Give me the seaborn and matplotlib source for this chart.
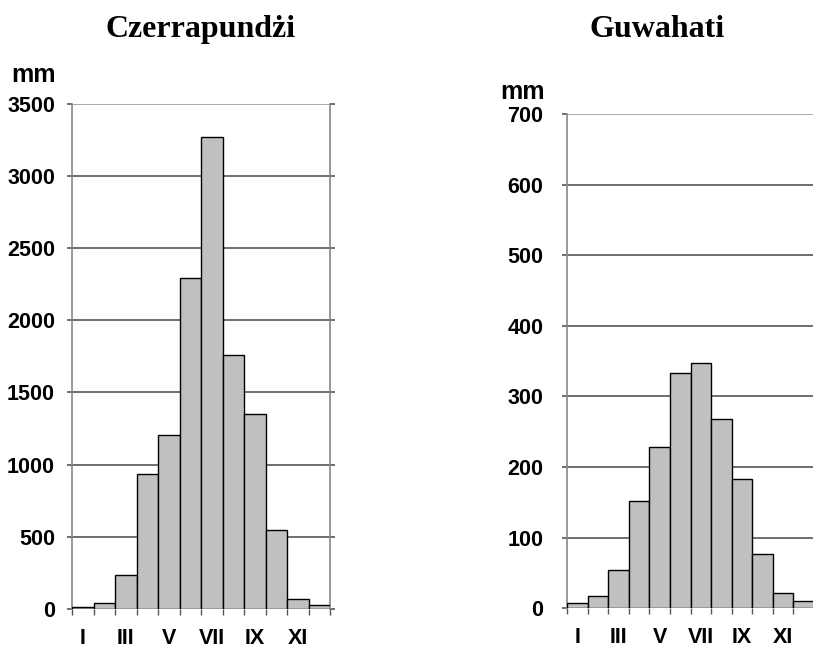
import matplotlib
matplotlib.use("Agg")
import matplotlib.pyplot as plt
import seaborn as sns
import pandas as pd
import numpy as np

months = ["I", "II", "III", "IV", "V", "VI", "VII", "VIII", "IX", "X", "XI", "XII"]
month_labels = ["I", "", "III", "", "V", "", "VII", "", "IX", "", "XI", ""]
cherrapunji_mm = [11, 40, 233, 933, 1208, 2292, 3266, 1760, 1349, 547, 67, 30]
guwahati_mm = [8, 17, 54, 152, 229, 333, 347, 268, 183, 77, 21, 11]
titles = ["Czerrapundżi", "Guwahati"]
cherrapunji_yticks = [0, 500, 1000, 1500, 2000, 2500, 3000, 3500]
guwahati_yticks = [0, 100, 200, 300, 400, 500, 600, 700]

sns.set_theme(style="white")
plt.rcParams["font.family"] = ["Liberation Sans", "DejaVu Sans"]
plt.rcParams["text.color"] = "black"

W, H = 813, 649
fig = plt.figure(figsize=(W / 100, H / 100), dpi=100)

def px_axes(x0, x1, ytop, ybot):
    return fig.add_axes([x0 / W, 1 - ybot / H, (x1 - x0) / W, (ybot - ytop) / H])

ax1 = px_axes(72, 330, 103.7, 609)
ax2 = px_axes(567.3, 813.8, 114, 608.3)

panels = [
    (ax1, cherrapunji_mm, cherrapunji_yticks, 8.6),
    (ax2, guwahati_mm, guwahati_yticks, 13.7),
]

grid_c = "#555555"
for ax, vals, yt, ypad in panels:
    df = pd.DataFrame({"month": months, "mm": vals})
    ax.set_axisbelow(True)
    sns.barplot(data=df, x="month", y="mm", color="#c0c0c0", saturation=1,
                edgecolor="black", linewidth=1.0, width=1.0, ax=ax, zorder=3)
    ax.set_xlim(-0.5, 11.5)
    ax.set_ylim(0, yt[-1])
    ax.set_yticks(yt)
    ax.set_yticklabels([str(v) for v in yt], fontsize=15.5, fontweight="bold", color="black")
    ax.set_xticks(range(12))
    ax.set_xticklabels(month_labels, fontsize=15.5, fontweight="bold", color="black")
    ax.set_xticks(np.arange(-0.5, 12, 1.0), minor=True)
    ax.tick_params(axis="x", which="major", length=0, pad=13.5)
    ax.tick_params(axis="x", which="minor", length=4.3, width=1.0, color=grid_c,
                   direction="out", bottom=True)
    ax.tick_params(axis="y", which="major", length=3.6, width=1.2, color=grid_c,
                   direction="out", left=True, right=True, pad=ypad)
    ax.set_xlabel("")
    ax.set_ylabel("")
    for v in yt:
        ax.axhline(v, color=("#999999" if v == yt[-1] else grid_c), lw=1.2, zorder=1)
    ax.spines["top"].set_visible(False)
    ax.spines["bottom"].set_visible(False)
    ax.spines["left"].set_color("#888888")
    ax.spines["left"].set_linewidth(1.2)
    ax.spines["right"].set_color("#888888")
    ax.spines["right"].set_linewidth(1.2)
    ax.set_facecolor("white")
    ax.patch.set_alpha(0)

fig.text(201 / W, 1 - 37 / H, titles[0], ha="center", va="baseline", color="black",
         fontsize=23, fontweight="bold", family=["Liberation Serif", "DejaVu Serif"])
fig.text(657 / W, 1 - 37 / H, titles[1], ha="center", va="baseline", color="black",
         fontsize=23, fontweight="bold", family=["Liberation Serif", "DejaVu Serif"])
fig.text(33.5 / W, 1 - 82 / H, "mm", ha="center", va="baseline", color="black",
         fontsize=18, fontweight="bold")
fig.text(522 / W, 1 - 99 / H, "mm", ha="center", va="baseline", color="black",
         fontsize=18, fontweight="bold")

fig.savefig("out.png", dpi=100, facecolor="white")
